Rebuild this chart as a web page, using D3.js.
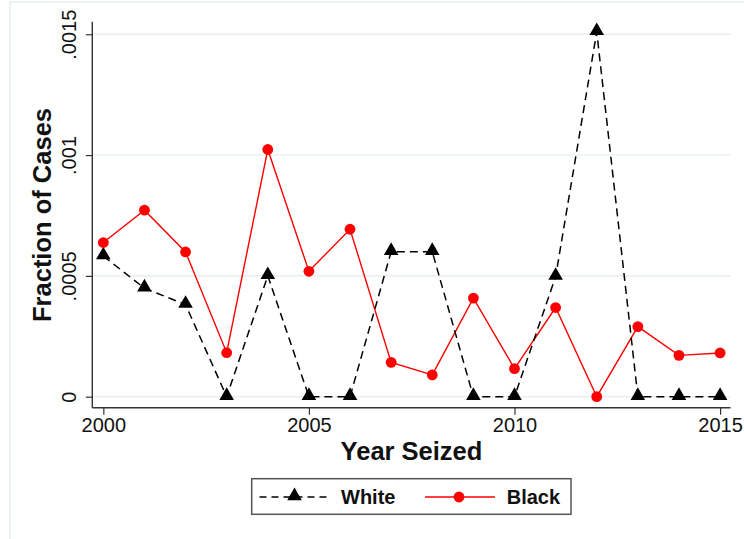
<!DOCTYPE html>
<html>
<head>
<meta charset="utf-8">
<script src="https://cdn.jsdelivr.net/npm/d3@7"></script>
<style>
  html, body { margin: 0; padding: 0; background: #fff; }
  svg { display: block; font-family: "Liberation Sans", Arial, sans-serif; }
</style>
</head>
<body>
<div id="chart"></div>
<script>
const years = [2000, 2001, 2002, 2003, 2004, 2005, 2006, 2007, 2008, 2009, 2010, 2011, 2012, 2013, 2014, 2015];
const whiteValues = [0.000582, 0.000449, 0.000381, 0, 0.0005, 0, 0, 0.0006, 0.0006, 0, 0, 0.000497, 0.00151, 0, 0, 0];
const blackValues = [0.000638, 0.000772, 0.000599, 0.000182, 0.001023, 0.000519, 0.000693, 0.000142, 0.00009, 0.000408, 0.000116, 0.000369, 0, 0.00029, 0.000171, 0.000181];
const yTicks = [0, 0.0005, 0.001, 0.0015];
const yTickLabels = ["0", ".0005", ".001", ".0015"];
const xTicks = [2000, 2005, 2010, 2015];
const seriesNames = ["White", "Black"];
const xTitle = "Year Seized";
const yTitle = "Fraction of Cases";

const W = 744, H = 539;
const svg = d3.select("#chart").append("svg").attr("width", W).attr("height", H);

// outer graph region border
svg.append("rect").attr("x", 10).attr("y", 2).attr("width", W + 20).attr("height", H + 20)
  .attr("fill", "none").attr("stroke", "#e8eef0").attr("stroke-width", 1.5);

const plot = { left: 92.3, right: 730.5, top: 21.7, bottom: 407.7 };
const x = d3.scaleLinear().domain([1999.732, 2015.253]).range([plot.left, plot.right]);
const y = d3.scaleLinear().domain([-0.0000456, 0.001552]).range([plot.bottom, plot.top]);

// gridlines
svg.append("g").selectAll("line").data(yTicks).join("line")
  .attr("x1", plot.left).attr("x2", plot.right)
  .attr("y1", d => y(d)).attr("y2", d => y(d))
  .attr("stroke", "#eaf0f2").attr("stroke-width", 1.6);

// axes
const yAxis = d3.axisLeft(y).tickValues(yTicks).tickFormat((d, i) => yTickLabels[i]).tickSize(6.5).tickSizeOuter(0);
const gy = svg.append("g").attr("transform", `translate(${plot.left},0)`).call(yAxis);
gy.select(".domain").attr("stroke", "#333").attr("stroke-width", 1.4).attr("d", `M0,${plot.top}V${plot.bottom}`);
gy.selectAll(".tick line").attr("stroke", "#333").attr("stroke-width", 1.2);
gy.selectAll(".tick text").attr("font-size", 20).attr("fill", "#111")
  .attr("transform", "rotate(-90)").attr("x", 0).attr("y", -16).attr("dy", 0)
  .attr("text-anchor", "middle");

const xAxis = d3.axisBottom(x).tickValues(xTicks).tickFormat(d3.format("d")).tickSize(7).tickSizeOuter(0);
const gx = svg.append("g").attr("transform", `translate(0,${plot.bottom})`).call(xAxis);
gx.select(".domain").attr("stroke", "#333").attr("stroke-width", 1.4).attr("d", `M${plot.left},0H${plot.right}`);
gx.selectAll(".tick line").attr("stroke", "#333").attr("stroke-width", 1.2);
gx.selectAll(".tick text").attr("font-size", 20).attr("fill", "#111").attr("y", 10).attr("dy", "0.71em");

// titles
svg.append("text").attr("x", 411.5).attr("y", 460).attr("text-anchor", "middle")
  .attr("font-size", 25.5).attr("font-weight", "bold").attr("fill", "#111").text(xTitle);
svg.append("text").attr("transform", "translate(51,215) rotate(-90)").attr("text-anchor", "middle")
  .attr("font-size", 25.5).attr("font-weight", "bold").attr("fill", "#111").text(yTitle);

// lines
const line = d3.line().x(d => x(d[0])).y(d => y(d[1]));
const whiteData = years.map((yr, i) => [yr, whiteValues[i]]);
const blackData = years.map((yr, i) => [yr, blackValues[i]]);

svg.append("path").datum(blackData).attr("d", line).attr("fill", "none")
  .attr("stroke", "#ff0000").attr("stroke-width", 1.4);
svg.append("path").datum(whiteData).attr("d", line).attr("fill", "none")
  .attr("stroke", "#000").attr("stroke-width", 1.5).attr("stroke-dasharray", "8,5");

const tri = d3.symbol().type(d3.symbolTriangle).size(92);
svg.append("g").selectAll("path").data(whiteData).join("path")
  .attr("d", tri).attr("transform", d => `translate(${x(d[0])},${y(d[1]) - 1})`).attr("fill", "#000");
svg.append("g").selectAll("circle").data(blackData).join("circle")
  .attr("cx", d => x(d[0])).attr("cy", d => y(d[1])).attr("r", 5.4).attr("fill", "#ff0000");

// legend
const lg = svg.append("g");
lg.append("rect").attr("x", 251.7).attr("y", 478.7).attr("width", 319.3).attr("height", 35.6)
  .attr("fill", "#fff").attr("stroke", "#555").attr("stroke-width", 1.5);
const ly = 497;
lg.append("line").attr("x1", 259.5).attr("x2", 329.5).attr("y1", ly).attr("y2", ly)
  .attr("stroke", "#000").attr("stroke-width", 1.5).attr("stroke-dasharray", "7,5");
lg.append("path").attr("d", tri).attr("transform", `translate(294.5,${ly - 1})`).attr("fill", "#000");
lg.append("text").attr("x", 341).attr("y", ly + 7).attr("font-size", 20).attr("font-weight", "bold").attr("fill", "#111").text(seriesNames[0]);
lg.append("line").attr("x1", 425).attr("x2", 495).attr("y1", ly).attr("y2", ly)
  .attr("stroke", "#ff0000").attr("stroke-width", 1.4);
lg.append("circle").attr("cx", 459).attr("cy", ly).attr("r", 5.4).attr("fill", "#ff0000");
lg.append("text").attr("x", 506.7).attr("y", ly + 7).attr("font-size", 20).attr("font-weight", "bold").attr("fill", "#111").text(seriesNames[1]);
</script>
</body>
</html>
